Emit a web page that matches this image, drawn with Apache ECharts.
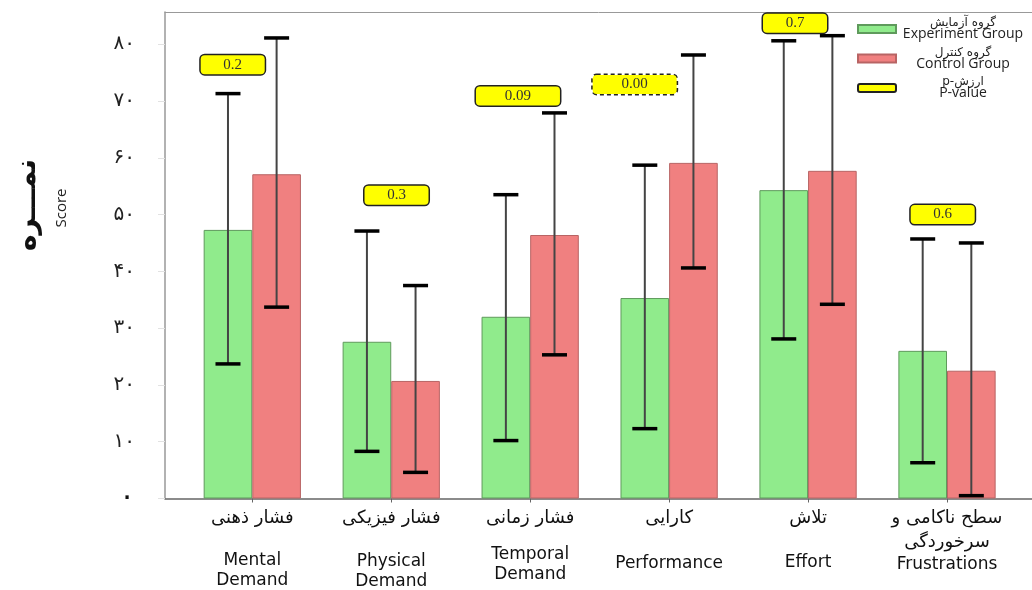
<!DOCTYPE html>
<html>
<head>
<meta charset="utf-8">
<script src="https://cdn.jsdelivr.net/npm/echarts@6/dist/echarts.min.js"></script>
<style>
  html, body { margin: 0; padding: 0; background: #fff; }
  #chart { width: 1032px; height: 590px; }
</style>
</head>
<body>
<div id="chart"></div>
<script>
// categories (Persian + English)
var catFa = ['فشار ذهنی', 'فشار فیزیکی', 'فشار زمانی', 'کارایی', 'تلاش', 'سطح ناکامی و\nسرخوردگی'];
var catEn = ['Mental\nDemand', 'Physical\nDemand', 'Temporal\nDemand', 'Performance', 'Effort', 'Frustrations'];
var catPos = [1, 2, 3, 4, 5, 6];

// mean scores
var expMean = [47.3, 27.6, 32.0, 35.3, 54.3, 26.0];
var ctrlMean = [57.1, 20.7, 46.4, 59.1, 57.7, 22.5];

// error bar ends
var expLow = [23.7, 8.3, 10.2, 12.3, 28.1, 6.3];
var expHigh = [71.3, 47.1, 53.5, 58.7, 80.6, 45.7];
var ctrlLow = [33.7, 4.6, 25.3, 40.6, 34.2, 0.5];
var ctrlHigh = [81.1, 37.5, 67.9, 78.1, 81.5, 45.0];

// p-values and where their boxes sit (data coords)
var pValues = ['0.2', '0.3', '0.09', '0.00', '0.7', '0.6'];
var pBoxX = [0.859, 2.038, 2.912, 3.752, 4.906, 5.969];
var pBoxY = [76.4, 53.4, 70.9, 72.9, 83.7, 50.0];

// gap before the english line of each x label
var enGap = [20, 21, 14, 23, 22, 0];

var yTicks = [0, 10, 20, 30, 40, 50, 60, 70, 80];

var legendFa = {
  'Experiment Group': 'گروه آزمایش',
  'Control Group': 'گروه کنترل',
  'P-value': 'p-ارزش'
};

function toFa(n) {
  return String(n).replace(/\d/g, function (d) { return '۰۱۲۳۴۵۶۷۸۹'[d]; });
}

var chart = echarts.init(document.getElementById('chart'));

function errRender(sign) {
  return function (params, api) {
    var x = api.value(0);
    var top = api.coord([x, api.value(2)]);
    var bot = api.coord([x, api.value(1)]);
    var half = api.size([1, 0])[0] * 0.175;
    var cx = top[0] + sign * half;
    var cap = 12.5;
    return {
      type: 'group',
      children: [
        { type: 'line', shape: { x1: cx, y1: top[1], x2: cx, y2: bot[1] }, style: { stroke: '#444', lineWidth: 2 } },
        { type: 'line', shape: { x1: cx - cap, y1: top[1], x2: cx + cap, y2: top[1] }, style: { stroke: '#000', lineWidth: 3.5 } },
        { type: 'line', shape: { x1: cx - cap, y1: bot[1], x2: cx + cap, y2: bot[1] }, style: { stroke: '#000', lineWidth: 3.5 } }
      ]
    };
  };
}

function pRender(params, api) {
  var i = params.dataIndex;
  var pt = api.coord([api.value(0), api.value(1)]);
  var txt = pValues[i];
  var sig = parseFloat(txt) < 0.05;
  return {
    type: 'text',
    x: pt[0],
    y: pt[1],
    style: {
      text: txt,
      fill: '#333',
      font: '15px "Liberation Serif"',
      align: 'center',
      verticalAlign: 'middle',
      backgroundColor: '#ffff00',
      borderColor: '#222',
      borderWidth: 1.5,
      borderRadius: 4,
      borderDash: sig ? [4, 3] : null,
      width: txt.length > 3 ? 64 : 44,
      padding: [2, 10]
    }
  };
}

var xLabelRich = {
  fa: { fontFamily: 'DejaVu Sans', fontSize: 18, lineHeight: 24, color: '#111', align: 'center' },
  en: { fontFamily: 'DejaVu Sans', fontSize: 17, lineHeight: 20, color: '#111', align: 'center' }
};
enGap.forEach(function (g) {
  xLabelRich['g' + g] = { fontSize: 1, lineHeight: g, align: 'center' };
});

var xMin = 0.3717;
var xMax = 6.6117;

chart.setOption({
  animation: false,
  grid: {
    left: 165,
    right: 0,
    top: 12,
    bottom: 90
  },
  legend: {
    orient: 'vertical',
    left: 857,
    top: 17,
    padding: 0,
    itemWidth: 38,
    itemHeight: 8,
    itemGap: 5,
    selectedMode: false,
    data: [
      { name: 'Experiment Group', icon: 'rect' },
      { name: 'Control Group', icon: 'rect' },
      { name: 'P-value', icon: 'roundRect' }
    ],
    formatter: function (name) {
      return '{fa|' + legendFa[name] + '}\n{en|' + name + '}';
    },
    textStyle: {
      rich: {
        fa: { fontFamily: 'DejaVu Sans', fontSize: 12, lineHeight: 11, color: '#222', align: 'center', width: 124 },
        en: { fontFamily: 'Open Sans', fontSize: 14, fontWeight: 500, lineHeight: 12, color: '#222', align: 'center', width: 124 }
      }
    }
  },
  xAxis: [
    {
      type: 'value',
      min: xMin,
      max: xMax,
      splitLine: { show: false },
      axisLine: { lineStyle: { color: '#666', width: 1.5 } },
      axisTick: { show: true, customValues: catPos, length: 4, lineStyle: { color: '#666' } },
      axisLabel: {
        customValues: catPos,
        margin: 8,
        formatter: function (v) {
          var i = Math.round(v) - 1;
          var fa = catFa[i].split('\n').map(function (s) { return '{fa|' + s + '}'; }).join('\n');
          var en = catEn[i].split('\n').map(function (s) { return '{en|' + s + '}'; }).join('\n');
          var gap = enGap[i] > 0 ? '\n{g' + enGap[i] + '| }' : '';
          return fa + gap + '\n' + en;
        },
        rich: xLabelRich
      }
    },
    {
      // top frame line only
      type: 'value',
      position: 'top',
      min: xMin,
      max: xMax,
      splitLine: { show: false },
      axisTick: { show: false },
      axisLabel: { show: false },
      axisLine: { show: true, lineStyle: { color: '#999', width: 1 } }
    }
  ],
  yAxis: {
    type: 'value',
    min: 0,
    max: 85.67,
    interval: 10,
    splitLine: { show: false },
    axisLine: { show: true, lineStyle: { color: '#999', width: 1.5 } },
    axisTick: { show: true, length: 7, lineStyle: { color: '#e2e2e2' } },
    axisLabel: {
      margin: 30,
      showMaxLabel: false,
      fontFamily: 'DejaVu Sans',
      fontSize: 20,
      color: '#222',
      formatter: function (v) {
        if (v === 0) return '{z|' + toFa(v) + '}';
        return yTicks.indexOf(v) >= 0 ? toFa(v) : '';
      },
      rich: {
        z: { fontFamily: 'DejaVu Sans', fontSize: 30, color: '#111' }
      }
    }
  },
  graphic: [
    {
      type: 'text',
      x: 28,
      y: 205,
      rotation: Math.PI / 2,
      style: { text: 'نمـــره', font: 'bold 28px "DejaVu Sans"', fill: '#111', align: 'center', verticalAlign: 'middle' }
    },
    {
      type: 'text',
      x: 62,
      y: 208,
      rotation: Math.PI / 2,
      style: { text: 'Score', font: '15px "Open Sans"', fill: '#222', align: 'center', verticalAlign: 'middle' }
    }
  ],
  series: [
    {
      name: 'Experiment Group',
      type: 'bar',
      barWidth: '35%',
      barGap: '0%',
      itemStyle: { color: '#90eb8c', borderColor: '#5f9a5c', borderWidth: 1 },
      data: catPos.map(function (x, i) { return [x, expMean[i]]; })
    },
    {
      name: 'Control Group',
      type: 'bar',
      barWidth: '35%',
      barGap: '0%',
      itemStyle: { color: '#f08080', borderColor: '#b86464', borderWidth: 1 },
      data: catPos.map(function (x, i) { return [x, ctrlMean[i]]; })
    },
    {
      name: 'expErr',
      type: 'custom',
      z: 5,
      renderItem: errRender(-1),
      data: catPos.map(function (x, i) { return [x, expLow[i], expHigh[i]]; })
    },
    {
      name: 'ctrlErr',
      type: 'custom',
      z: 5,
      renderItem: errRender(1),
      data: catPos.map(function (x, i) { return [x, ctrlLow[i], ctrlHigh[i]]; })
    },
    {
      name: 'P-value',
      type: 'custom',
      z: 6,
      itemStyle: { color: '#ffff00', borderColor: '#222', borderWidth: 1.5 },
      renderItem: pRender,
      data: pBoxX.map(function (x, i) { return [x, pBoxY[i]]; })
    }
  ]
});
</script>
</body>
</html>
